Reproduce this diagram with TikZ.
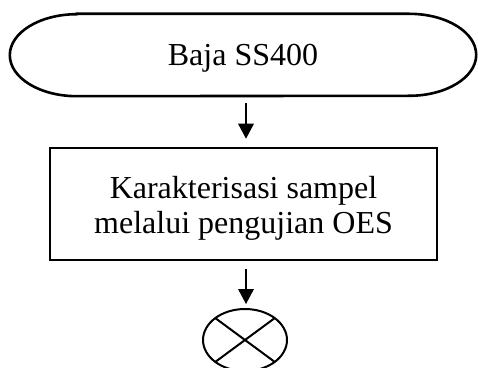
\documentclass[tikz,border=0pt]{standalone}
\usepackage{fontspec}
\setmainfont{Liberation Serif}
\usetikzlibrary{arrows.meta,shapes.geometric}
\begin{document}
\begin{tikzpicture}[x=1pt,y=1pt,
  flowtext/.style={font=\fontsize{32}{35}\selectfont, inner sep=0pt},
  terminal/.style={flowtext, minimum width=466pt, minimum height=82pt, text depth=0pt},
  process/.style={flowtext, draw, line width=2.6pt, minimum width=387pt,
    minimum height=112pt, align=center, text height=65pt},
  connector/.style={draw, ellipse, line width=2pt, minimum width=84pt,
    minimum height=62pt, inner sep=0pt},
  flowarrow/.style={line width=1.3pt, -{Triangle[length=15pt,width=15.7pt]}}]
\useasboundingbox (0,0) rectangle (478,367);

% start terminal with elliptical ends
\node[terminal] (start) at (243,312) {Baja SS400};
\draw[line width=2.6pt]
  ([xshift=67pt]start.north west) -- ([xshift=-67pt]start.north east)
  arc[start angle=90, end angle=-90, x radius=67, y radius=41]
  -- ([xshift=67pt]start.south west)
  arc[start angle=270, end angle=90, x radius=67, y radius=41] -- cycle;

% process step
\node[process] (oes) at (243.5,163) {Karakterisasi sampel\\melalui pengujian OES};

% off-page connector
\node[connector] (join) at (245,27) {};
\draw[line width=2pt] (join.center) ++(-29.7,21.9) -- ++(59.4,-43.8);
\draw[line width=2pt] (join.center) ++(29.7,21.9) -- ++(-59.4,-43.8);

% flow arrows
\draw[flowarrow, shorten <=7pt, shorten >=8pt]
  ([xshift=3pt]start.south) -- ([xshift=2.5pt]oes.north);
\draw[flowarrow, shorten <=8pt, shorten >=4pt]
  ([xshift=2.5pt]oes.south) -- ([xshift=1pt]join.north);
\end{tikzpicture}
\end{document}
